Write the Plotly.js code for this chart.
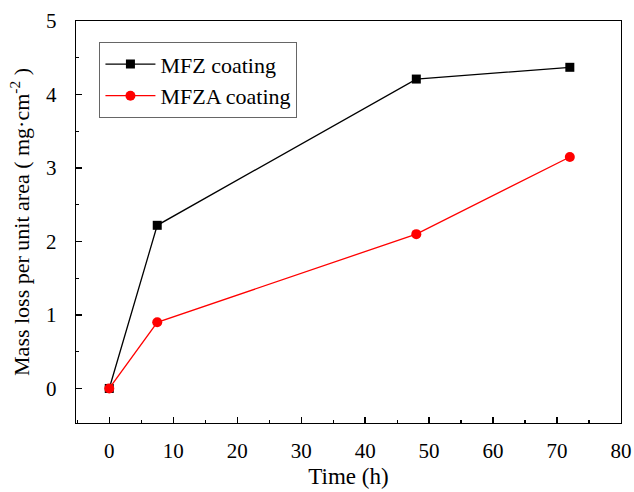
<!DOCTYPE html>
<html>
<head>
<meta charset="utf-8">
<script src="https://cdn.plot.ly/plotly-3.0.1.min.js"></script>
<style>html,body{margin:0;padding:0;background:#fff}#chart{width:634px;height:492px}</style>
</head>
<body>
<div id="chart"></div>
<script>
const timeH = [0, 7.5, 48, 72];
const mfz = [0, 2.22, 4.21, 4.37];
const mfza = [0, 0.90, 2.10, 3.15];
const seriesNames = ["MFZ coating", "MFZA coating"];
const xTicks = [0, 10, 20, 30, 40, 50, 60, 70, 80];
const yTicks = [0, 1, 2, 3, 4, 5];

const font = "Liberation Serif, Times New Roman, serif";
const traces = [
  {x: timeH, y: mfz, name: seriesNames[0], mode: "lines+markers",
   line: {color: "#000", width: 1.3}, marker: {symbol: "square", size: 9, color: "#000"}},
  {x: timeH, y: mfza, name: seriesNames[1], mode: "lines+markers",
   line: {color: "#ff0000", width: 1.3}, marker: {symbol: "circle", size: 10, color: "#ff0000"}}
];
const axisCommon = {
  showgrid: false, zeroline: false, showline: true, linecolor: "#000", linewidth: 1.3,
  mirror: true, ticks: "inside", ticklen: 6, tickwidth: 1.3, tickcolor: "#000",
  tickfont: {family: font, size: 21, color: "#000"},
  minor: {ticks: "inside", ticklen: 3, tickwidth: 1.2, tickcolor: "#000"}
};
const layout = {
  width: 634, height: 492,
  margin: {l: 76, r: 13, t: 21, b: 69},
  paper_bgcolor: "#fff", plot_bgcolor: "#fff",
  showlegend: true,
  legend: {x: 0.043, y: 0.947, xanchor: "left", yanchor: "top",
    bordercolor: "#666", borderwidth: 1, bgcolor: "#fff", itemwidth: 50,
    font: {family: font, size: 22, color: "#000"}, tracegroupgap: 0},
  xaxis: Object.assign({}, axisCommon, {
    range: [-5.2, 80], tickvals: xTicks, ticktext: xTicks.map(String),
    minor: Object.assign({}, axisCommon.minor, {dtick: 5, tick0: 5}),
    ticklabelstandoff: 8,
    title: {text: "Time (h)", font: {family: font, size: 23, color: "#000"}, standoff: 6}
  }),
  yaxis: Object.assign({}, axisCommon, {
    range: [-0.47, 5], tickvals: yTicks, ticktext: yTicks.map(String),
    minor: Object.assign({}, axisCommon.minor, {dtick: 0.5, tick0: 0.5}),
    ticklabelstandoff: 14,
    title: {text: "Mass loss per unit area ( mg·cm<sup>-2</sup> )", font: {family: font, size: 22, color: "#000"}, standoff: 10}
  })
};
Plotly.newPlot("chart", traces, layout, {displayModeBar: false, staticPlot: true});
</script>
</body>
</html>
